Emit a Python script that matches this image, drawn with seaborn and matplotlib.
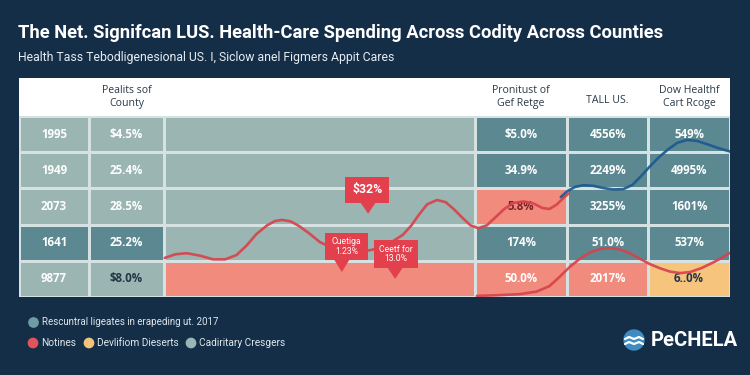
import matplotlib
matplotlib.use("Agg")
import matplotlib.pyplot as plt
import seaborn as sns
import numpy as np
import pandas as pd
from matplotlib.colors import ListedColormap
from matplotlib.patches import Circle, Rectangle, Polygon

# ---------------- data ----------------
title = "The Net. Signifcan LUS. Health-Care Spending Across Codity Across Counties"
subtitle = "Health Tass Tebodligenesional US. I, Siclow anel Figmers Appit Cares"

col_headers = ["", "Pealits sof\nCounty", "", "Pronitust of\nGef Retge", "TALL US.", "Dow Healthf\nCart Rcoge"]
years = ["1995", "1949", "2073", "1641", "9877"]
share_country = ["$4.5%", "25.4%", "28.5%", "25.2%", "$8.0%"]
chart_col = ["", "", "", "", ""]
share_range = ["$5.0%", "34.9%", "5.8%", "174%", "50.0%"]
total_us = ["4556%", "2249%", "3255%", "51.0%", "2017%"]
health_range = ["549%", "4995%", "1601%", "537%", "6..0%"]

# cell colour class: 0 light teal, 1 dark teal, 2 salmon, 3 amber
cell_class = [
    [0, 0, 0, 1, 1, 1],
    [0, 0, 0, 1, 1, 1],
    [0, 0, 0, 2, 1, 1],
    [1, 1, 0, 1, 1, 1],
    [0, 0, 2, 2, 2, 3],
]
# text colour class: 0 white, 1 dark, 2 dark red
text_class = [
    [0, 0, 0, 0, 0, 0],
    [0, 0, 0, 0, 0, 0],
    [0, 0, 0, 2, 0, 0],
    [0, 0, 0, 0, 0, 0],
    [0, 1, 0, 0, 0, 1],
]

# trend lines (x: position across table 0-100, y: level in row units 0-5)
red_x = [20.5, 22.0, 23.6, 25.5, 27.3, 29.0, 30.6, 32.0, 33.4, 34.9, 36.0, 37.0, 38.2, 39.4,
         40.8, 42.3, 44.4, 47.3, 49.6, 52.2, 54.0, 55.2, 56.2, 57.4, 58.8, 60.0, 61.2, 62.4,
         63.5, 64.6, 65.8, 67.0, 68.3, 69.6, 71.0, 72.4, 73.6, 74.6, 75.6, 76.5, 77.3]
red_y = [1.08, 1.18, 1.21, 1.14, 1.04, 1.04, 1.16, 1.42, 1.74, 1.98, 2.10, 2.13, 2.09, 1.96,
         1.76, 1.52, 1.32, 1.24, 1.30, 1.49, 1.72, 1.98, 2.26, 2.56, 2.68, 2.62, 2.42, 2.18,
         1.98, 1.90, 1.98, 2.20, 2.44, 2.60, 2.64, 2.58, 2.46, 2.43, 2.55, 2.72, 2.86]
blue_x = [76.2, 77.1, 78.2, 79.4, 80.8, 82.2, 83.6, 85.0, 86.3, 87.5, 88.7, 90.0, 91.3,
          92.6, 94.0, 95.4, 96.8, 98.4, 100.0]
blue_y = [2.76, 2.92, 3.04, 3.09, 3.07, 3.01, 2.97, 2.98, 3.10, 3.34, 3.60, 3.86, 4.08,
          4.26, 4.34, 4.31, 4.22, 4.11, 4.02]
red2_x = [64.4, 67.5, 70.5, 72.8, 74.6, 76.0, 77.4, 78.9, 80.4, 81.8, 83.1, 84.4, 85.8,
          87.2, 88.6, 90.2, 91.6, 93.0, 94.4, 96.0, 97.6, 99.0, 100.0]
red2_y = [0.03, 0.05, 0.08, 0.15, 0.30, 0.55, 0.82, 1.06, 1.24, 1.33, 1.35, 1.32, 1.22,
          1.07, 0.92, 0.79, 0.70, 0.66, 0.69, 0.80, 0.95, 1.10, 1.22]

callout_text = ["$32%", "Cuetiga\n1.23%", "Ceetf for\n13.0%"]
callout_box = [(45.9, 2.60, 6.2, 0.72), (43.0, 1.02, 6.1, 0.75), (49.9, 0.80, 6.2, 0.77)]
callout_tip = [(49.1, 2.30), (45.4, 0.69), (52.9, 0.50)]

legend_row1 = ["Rescuntral ligeates in erapeding ut. 2017"]
legend_row2 = ["Notines", "Devlifiom Dieserts", "Cadiritary Cresgers"]
brand = "PeCHELA"

# ---------------- style ----------------
sns.set_theme(style="white")
NARROW = ["Roboto", "DejaVu Sans"]
plt.rcParams["font.family"] = ["Open Sans", "DejaVu Sans"]

BG = "#142e48"
cell_colors = ["#9bb5b2", "#5b8891", "#f08b7d", "#f7c47e"]
txt_colors = ["#ffffff", "#243548", "#7a2228"]
RED = "#d7434c"
BLUE = "#1c5a90"
CALL = "#e2404d"

W, H = 750, 375
fig = plt.figure(figsize=(W / 100, H / 100), dpi=100, facecolor=BG)

# overlay axes in pixel coordinates for titles / legend
ov = fig.add_axes([0, 0, 1, 1], zorder=0)
ov.set_xlim(0, W)
ov.set_ylim(H, 0)
ov.axis("off")

ov.text(18, 33, title, color="white", fontsize=13.2, fontweight="bold",
        family=NARROW, va="center", ha="left")
ov.text(18, 57, subtitle, color="#e6ecf1", fontsize=8.8, family=NARROW,
        va="center", ha="left")

# legend
leg_dot_colors1 = ["#6f9ba4"]
leg_dot_colors2 = ["#e4535c", "#f4c27a", "#9ab6b6"]
ov.scatter([33], [322], s=45, color=leg_dot_colors1, zorder=3)
ov.text(42, 322, legend_row1[0], color="#dfe6ec", fontsize=7.0, family=NARROW, va="center")
leg2_pos = [33, 89, 191]
ov.scatter(leg2_pos, [343] * 3, s=45, color=leg_dot_colors2, zorder=3)
for xp, t in zip(leg2_pos, legend_row2):
    ov.text(xp + 8, 343, t, color="#dfe6ec", fontsize=7.3, family=NARROW, va="center")

# brand
ov.add_patch(Circle((634, 340), 10, color="#3f8cc4", zorder=3))
wx = np.array([625, 629, 634, 639, 643])
ov.plot(wx, [339, 337, 339, 337, 339], color="white", lw=1.6, zorder=4, solid_capstyle="round")
ov.plot(wx, [344, 342, 344, 342, 344], color="white", lw=1.6, zorder=4, solid_capstyle="round")
ov.text(651, 341, brand, color="white", fontsize=14.5, fontweight="bold", family=NARROW, va="center")

# header panel
hx0, hx1 = 19, 730
hdr = fig.add_axes([hx0 / W, 1 - 116 / H, (hx1 - hx0) / W, 38 / H], zorder=1)
hdr.set_facecolor("white")
hdr.set_xlim(0, 100)
hdr.set_ylim(0, 1)
hdr.set_xticks([])
hdr.set_yticks([])
for s in hdr.spines.values():
    s.set_visible(False)

col_edges = np.array([0, 9.85, 20.4, 64.1, 77.1, 88.5, 100])
col_mid = (col_edges[:-1] + col_edges[1:]) / 2
for cx, h in zip(col_mid, col_headers):
    if h:
        hdr.text(cx, 0.5 if "\n" in h else 0.4, h, ha="center", va="center",
                 fontsize=7.6, color="#2a3a4a", linespacing=1.15)

# table
tab = fig.add_axes([hx0 / W, 1 - 297 / H, (hx1 - hx0) / W, 181 / H], zorder=2)
nrows = len(years)
C = np.array(cell_class)[::-1]
tab.pcolormesh(col_edges, np.arange(nrows + 1), C, cmap=ListedColormap(cell_colors),
               vmin=-0.5, vmax=3.5, edgecolor="#d6e2e2", linewidth=0.9)
tab.set_xlim(0, 100)
tab.set_ylim(0, nrows)
tab.set_xticks([])
tab.set_yticks([])
for s in tab.spines.values():
    s.set_visible(False)

columns = [years, share_country, chart_col, share_range, total_us, health_range]
for j, col in enumerate(columns):
    for i, t in enumerate(col):
        if t:
            tab.text(col_mid[j], nrows - 0.5 - i, t, ha="center", va="center",
                     fontsize=8.3, fontweight="bold", color=txt_colors[text_class[i][j]])

lines_df = pd.concat([
    pd.DataFrame({"x": red_x, "y": red_y, "series": "red"}),
    pd.DataFrame({"x": blue_x, "y": blue_y, "series": "blue"}),
    pd.DataFrame({"x": red2_x, "y": red2_y, "series": "red2"}),
])
sns.lineplot(data=lines_df, x="x", y="y", hue="series", sort=False, estimator=None,
             palette={"red": RED, "blue": BLUE, "red2": RED}, linewidth=1.9,
             legend=False, ax=tab, zorder=4, alpha=0.92)
for ln in tab.lines:
    ln.set_solid_joinstyle("round")
    ln.set_solid_capstyle("round")
tab.set_xlabel("")
tab.set_ylabel("")

# callouts
for k, (t, (bx, by, bw, bh), (tx, ty)) in enumerate(zip(callout_text, callout_box, callout_tip)):
    big = k == 0
    tab.add_patch(Rectangle((bx, by), bw, bh, fc=CALL, ec="none", zorder=6))
    tab.add_patch(Polygon([(tx - 1.1, by + 0.02), (tx + 1.1, by + 0.02), (tx, ty)],
                          closed=True, fc=CALL, ec="none", zorder=6))
    tab.text(bx + bw / 2, by + bh / 2, t, ha="center", va="center", color="white",
             fontsize=8.8 if big else 6.2, fontweight="bold" if big else "normal",
             family=NARROW, linespacing=1.05, zorder=7)

fig.savefig("out.png", dpi=100, facecolor=BG)
